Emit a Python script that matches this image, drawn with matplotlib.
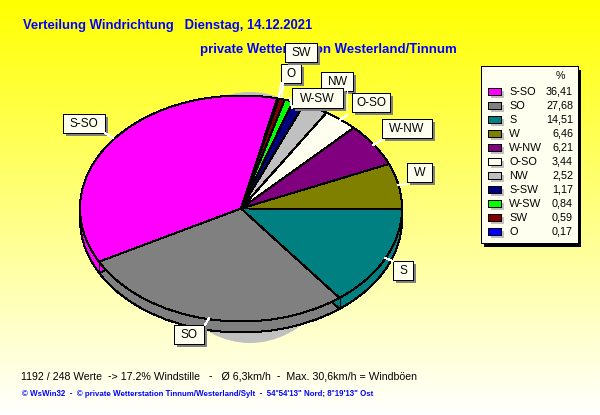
import numpy as np
import matplotlib
matplotlib.use("Agg")
import matplotlib.pyplot as plt
from matplotlib.patches import Rectangle, Ellipse

plt.rcParams["font.family"] = ["Liberation Sans", "DejaVu Sans"]
plt.rcParams["text.hinting"] = "native"

# Daten
richtung = ["S-SO", "SO", "S", "W", "W-NW", "O-SO", "NW", "S-SW", "W-SW", "SW", "O"]
prozent = [36.41, 27.68, 14.51, 6.46, 6.21, 3.44, 2.52, 1.17, 0.84, 0.59, 0.17]
farben = ["#ff00ff", "#808080", "#008080", "#808000", "#800080", "#fffff0",
          "#c0c0c0", "#000080", "#00ff00", "#800000", "#0000ff"]

titel1 = "Verteilung Windrichtung   Dienstag, 14.12.2021"
titel2 = "private Wetterstation Westerland/Tinnum"
info = "1192 / 248 Werte  -> 17.2% Windstille   -   Ø 6,3km/h  -  Max. 30,6km/h = Windböen"
copyright_txt = "© WsWin32  -  © private Wetterstation Tinnum/Westerland/Sylt  -  54°54'13\" Nord; 8°19'13\" Ost"

# Beschriftungen: x0, y0, x1, y1 der Box in Pixeln, danach Linie zum Kreis
boxen = {
    "S-SO": (63, 114, 105, 133, 105, 133, 113, 138),
    "NW": (321, 72, 353, 91, 347, 91, 347, 110),
    "O-SO": (352, 93, 390, 112, 347, 115, 340, 120),
    "W-SW": (292, 88, 343, 108, 292, 108, 290, 98),
    "W-NW": (382, 119, 432, 138, 382, 140, 373, 145),
    "W": (407, 163, 432, 182, 407, 184, 398, 185),
    "S": (393, 261, 413, 280, 393, 261, 385, 258),
    "SO": (174, 325, 204, 344, 205, 325, 209, 318),
    "O": (281, 64, 301, 83, 281, 83, 279, 97),
    "SW": (285, 43, 317, 62, 283, 83, 282, 97),
}
box_reihenfolge = ["S-SO", "SO", "S", "W", "W-NW", "NW", "O-SO", "W-SW", "O", "SW"]

# Kreis in Pixeln
cx, cy, rx, ry = 241, 208.5, 161, 113
tiefe = 11
linie = 0.72

fig = plt.figure(figsize=(6, 4.15), dpi=100)


def pixel_axes(z):
    ax = fig.add_axes([0, 0, 1, 1], zorder=z)
    ax.set_xlim(0, 600)
    ax.set_ylim(415, 0)
    ax.axis("off")
    return ax


# Hintergrund: gelb nach fast weiss
bg = pixel_axes(0)
blau = np.linspace(0, 1, 415).reshape(-1, 1)
verlauf = np.dstack([np.ones((415, 1)), np.ones((415, 1)), blau])
bg.imshow(verlauf, extent=(0, 600, 415, 0), aspect="auto")
bg.set_xlim(0, 600)
bg.set_ylim(415, 0)
bg.text(23, 25, titel1, color="#0000ff", fontsize=9.4, fontweight="bold", va="center")
bg.text(200, 49, titel2, color="#0000ff", fontsize=9.55, fontweight="bold", va="center")
bg.text(21, 377, info, color="black", fontsize=7.7, va="center")
bg.text(22, 394, copyright_txt, color="#0000ff", fontsize=5.7, fontweight="bold", va="center")

# Kreis: 1 Einheit = rx bzw. ry Pixel
ax = fig.add_axes([0, 0, 1, 1], zorder=1)
ax.add_patch(Ellipse((9 / rx, -9 / ry), 200 / rx, 251 / ry, color="#c0c0c0", lw=0))
keil = dict(edgecolor="black", linewidth=linie, antialiased=False)
ax.pie(prozent, colors=farben, startangle=77, counterclock=True,
       center=(0, -tiefe / ry), wedgeprops=keil)
kante = np.cumsum(prozent) * 3.6 + 77
for w in kante:
    x = np.cos(np.radians(w))
    y = np.sin(np.radians(w))
    if y < 0:
        ax.plot([x, x], [y, y - tiefe / ry], color="black", lw=linie, antialiased=False)
ax.pie(prozent, colors=farben, startangle=77, counterclock=True, wedgeprops=keil)
ax.set_aspect("auto")
ax.set_xlim(-cx / rx, (600 - cx) / rx)
ax.set_ylim((cy - 415) / ry, cy / ry)
ax.axis("off")

# Beschriftungen
top = pixel_axes(2)
z = 3
for name in box_reihenfolge:
    x0, y0, x1, y1, lx0, ly0, lx1, ly1 = boxen[name]
    top.add_patch(Rectangle((x0 + 3, y0 + 3), x1 - x0, y1 - y0, color="#808080", lw=0, zorder=z))
    top.add_patch(Rectangle((x0, y0), x1 - x0, y1 - y0, facecolor="#fffff0", edgecolor="black",
                            lw=linie, zorder=z + 1, antialiased=False))
    top.text((x0 + x1) / 2, (y0 + y1) / 2, name, ha="center", va="center", fontsize=8.5,
             color="black", zorder=z + 2)
    top.plot([lx0, lx1], [ly0, ly1], color="white", lw=linie, zorder=z + 2, antialiased=False)
    z += 3

# Legende
top.add_patch(Rectangle((484, 70), 97, 177, color="black", lw=0, zorder=60))
top.add_patch(Rectangle((481, 66), 97, 177, facecolor="#fffff0", edgecolor="black", lw=linie,
                        zorder=61, antialiased=False))
top.text(560, 76, "%", ha="center", va="center", fontsize=7.6, zorder=62)
for i, name in enumerate(richtung):
    y = 92 + 14 * i
    top.add_patch(Rectangle((491, y - 1), 13, 7, color="#c0c0c0", lw=0, zorder=62))
    top.add_patch(Rectangle((488, y - 4), 13, 7, facecolor=farben[i], edgecolor="black", lw=linie,
                            zorder=63, antialiased=False))
    top.text(509, y, name, va="center", fontsize=7.8, zorder=64)
    wert = f"{prozent[i]:.2f}".replace(".", ",")
    top.text(573, y, wert, va="center", ha="right", fontsize=7.8, zorder=64)

fig.savefig("out.png", dpi=100)
